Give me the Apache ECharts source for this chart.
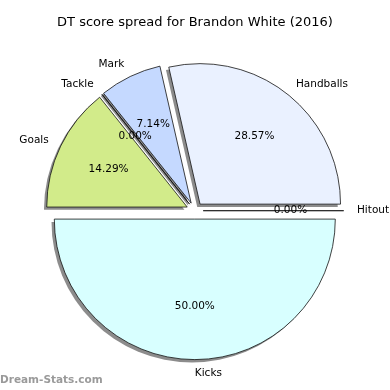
<!DOCTYPE html>
<html>
<head>
<meta charset="utf-8">
<script src="https://cdn.jsdelivr.net/npm/echarts@6/dist/echarts.min.js"></script>
<style>html,body{margin:0;padding:0;background:#fff}#c{width:390px;height:390px}</style>
</head>
<body>
<div id="c"></div>
<script>
const titleText = 'DT score spread for Brandon White (2016)';
const watermark = 'Dream-Stats.com';
const categories = ['Handballs', 'Mark', 'Tackle', 'Goals', 'Kicks', 'Hitout'];
const values = [4, 1, 0, 2, 7, 0];
const colors = ['#eaf1ff', '#c5d9ff', '#c5d9ff', '#d2eb8a', '#d8ffff', '#eaf1ff'];

const R = 140.5;
const CX = 194.8, CY = 210.7;
const OFFSET = 8.4;
const FONT = 'DejaVu Sans';

const chart = echarts.init(document.getElementById('c'), null, {renderer: 'canvas'});

function makeData(withColor) {
  return categories.map((c, i) => {
    const d = {name: c, value: values[i], selected: true};
    if (withColor) d.itemStyle = {color: colors[i]};
    return d;
  });
}

const base = {
  type: 'pie',
  center: [CX, CY],
  startAngle: 0,
  clockwise: false,
  selectedMode: 'multiple',
  selectedOffset: OFFSET,
  avoidLabelOverlap: false,
  minAngle: 0,
  minShowLabelAngle: 0,
  emphasis: {disabled: true, scale: false}
};

chart.setOption({
  animation: false,
  title: [
    {text: titleText, left: 'center', top: 16, padding: 0,
     textStyle: {fontFamily: FONT, fontSize: 13, fontWeight: 'normal', color: '#000'}},
    {text: watermark, left: 0, top: 375, padding: 0,
     textStyle: {fontFamily: FONT, fontSize: 10.5, fontWeight: 'bold', color: '#9a9a9a'}}
  ],
  series: [
    Object.assign({}, base, {
      radius: [0, R],
      itemStyle: {
        borderWidth: 0,
        shadowColor: 'rgba(0,0,0,0.45)', shadowBlur: 0,
        shadowOffsetX: -2.8, shadowOffsetY: 2.8
      },
      label: {
        show: true, position: 'outside', distanceToLabelLine: 0,
        fontFamily: FONT, fontSize: 10.5, color: '#000',
        formatter: '{b}'
      },
      labelLine: {show: false, length: R * 0.1 - 0.8, length2: 0},
      labelLayout: function (p) {
        if (categories[p.dataIndex] === 'Kicks' || p.align === 'left') {
          return {x: p.labelRect.x - 1.5, align: 'left', hideOverlap: false};
        }
        return {hideOverlap: false};
      },
      data: makeData(true)
    }),
    Object.assign({}, base, {
      radius: [0, R],
      itemStyle: {color: 'rgba(0,0,0,0)', borderColor: '#111', borderWidth: 0.8},
      label: {show: false},
      labelLine: {show: false},
      data: makeData(false)
    }),
    Object.assign({}, base, {
      radius: [R * 0.2, R],
      itemStyle: {color: 'rgba(0,0,0,0)', borderWidth: 0},
      label: {
        show: true, position: 'inside',
        fontFamily: FONT, fontSize: 10.5, color: '#000',
        formatter: p => p.percent.toFixed(2) + '%'
      },
      labelLine: {show: false},
      labelLayout: {hideOverlap: false},
      data: makeData(false)
    })
  ]
});
</script>
</body>
</html>
